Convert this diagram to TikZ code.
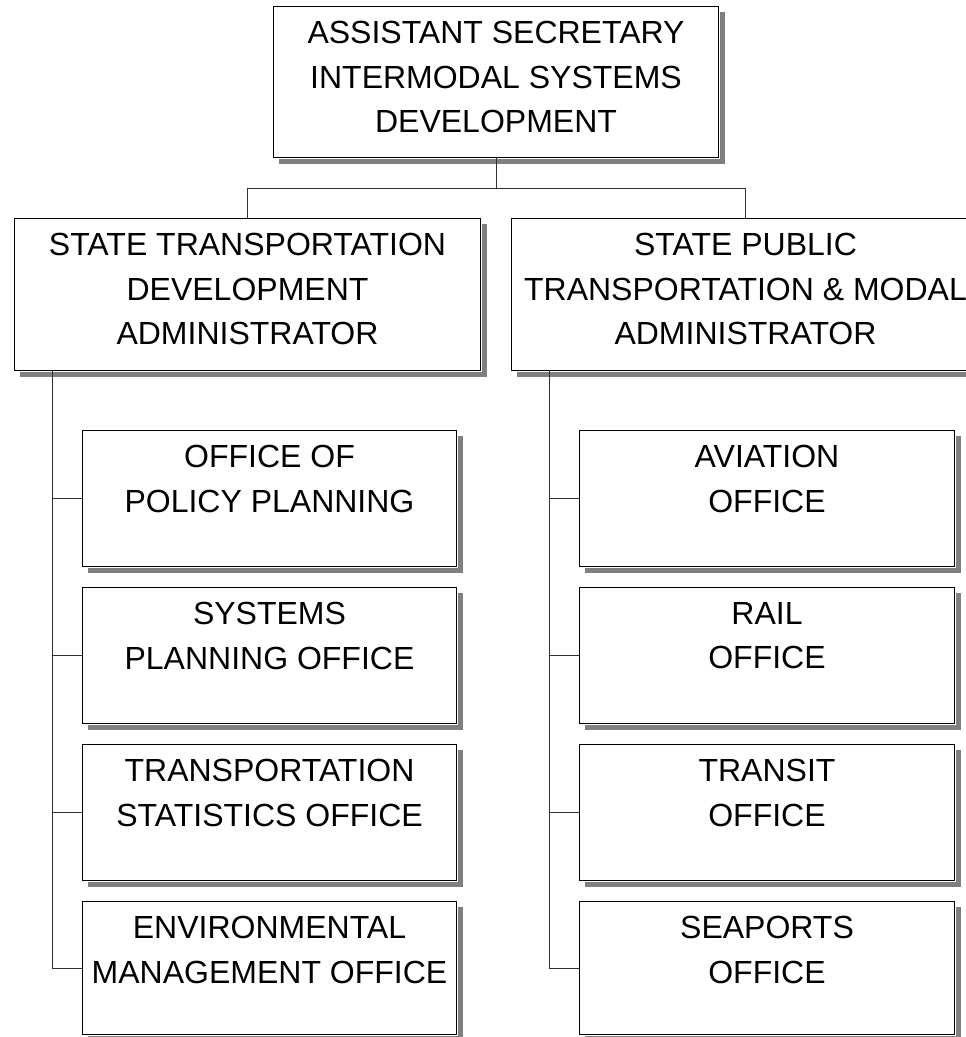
\documentclass[tikz,border=0pt]{standalone}
\usepackage{fontspec}
\setmainfont{Liberation Sans}
\usetikzlibrary{positioning}
\definecolor{shadowgray}{HTML}{808080}
\definecolor{conncol}{HTML}{303030}
\newcommand{\orgbox}[6]{%
  \fill[shadowgray] (#2+6,#3+6) rectangle (#4+7,#5+7);
  \node[orgrect, minimum width=#4-#2, minimum height=#5-#3] (#1) at (#2,#3) {};
  \node[orglabel, below=15pt of #1.north] (#1-t) {#6};
}
\begin{document}
\begin{tikzpicture}[x=1pt,y=-1pt,
  orgrect/.style={rectangle, anchor=north west, inner sep=0pt, fill=white,
    draw=black, line width=1pt, preaction={draw=white, line width=2.5pt}},
  orglabel/.style={inner sep=0pt, align=center, font=\fontsize{32}{44.5}\selectfont},
  conn/.style={draw=conncol, line width=1pt}]
\useasboundingbox (0,0) rectangle (966,1037);
\clip (0,0) rectangle (966,1037);

\orgbox{top}{273}{6}{718}{157}{ASSISTANT SECRETARY\\INTERMODAL SYSTEMS\\DEVELOPMENT}
\orgbox{ladm}{14}{218}{480}{370}{STATE TRANSPORTATION\\DEVELOPMENT\\ADMINISTRATOR}
\orgbox{radm}{511}{218}{979}{370}{STATE PUBLIC\\TRANSPORTATION \& MODAL\\ADMINISTRATOR}

\orgbox{l1}{82}{430}{456}{566}{OFFICE OF\\POLICY PLANNING}
\orgbox{l2}{82}{587}{456}{723}{SYSTEMS\\PLANNING OFFICE}
\orgbox{l3}{82}{744}{456}{880}{TRANSPORTATION\\STATISTICS OFFICE}
\orgbox{l4}{82}{901}{456}{1034}{ENVIRONMENTAL\\MANAGEMENT OFFICE}

\orgbox{r1}{579}{430}{954}{566}{AVIATION\\OFFICE}
\orgbox{r2}{579}{587}{954}{723}{RAIL\\OFFICE}
\orgbox{r3}{579}{744}{954}{880}{TRANSIT\\OFFICE}
\orgbox{r4}{579}{901}{954}{1034}{SEAPORTS\\OFFICE}

\coordinate (j) at (496,188);
\draw[conn] (top.south -| j) -- (j);
\draw[conn] (j) -| (ladm.north);
\draw[conn] (j) -| (radm.north);

\coordinate (lsp) at (52,370);
\coordinate (rsp) at (549,370);
\draw[conn] (lsp) |- (l4.west);
\draw[conn] (l1.west) -- (l1.west -| lsp);
\draw[conn] (l2.west) -- (l2.west -| lsp);
\draw[conn] (l3.west) -- (l3.west -| lsp);
\draw[conn] (rsp) |- (r4.west);
\draw[conn] (r1.west) -- (r1.west -| rsp);
\draw[conn] (r2.west) -- (r2.west -| rsp);
\draw[conn] (r3.west) -- (r3.west -| rsp);
\end{tikzpicture}
\end{document}
